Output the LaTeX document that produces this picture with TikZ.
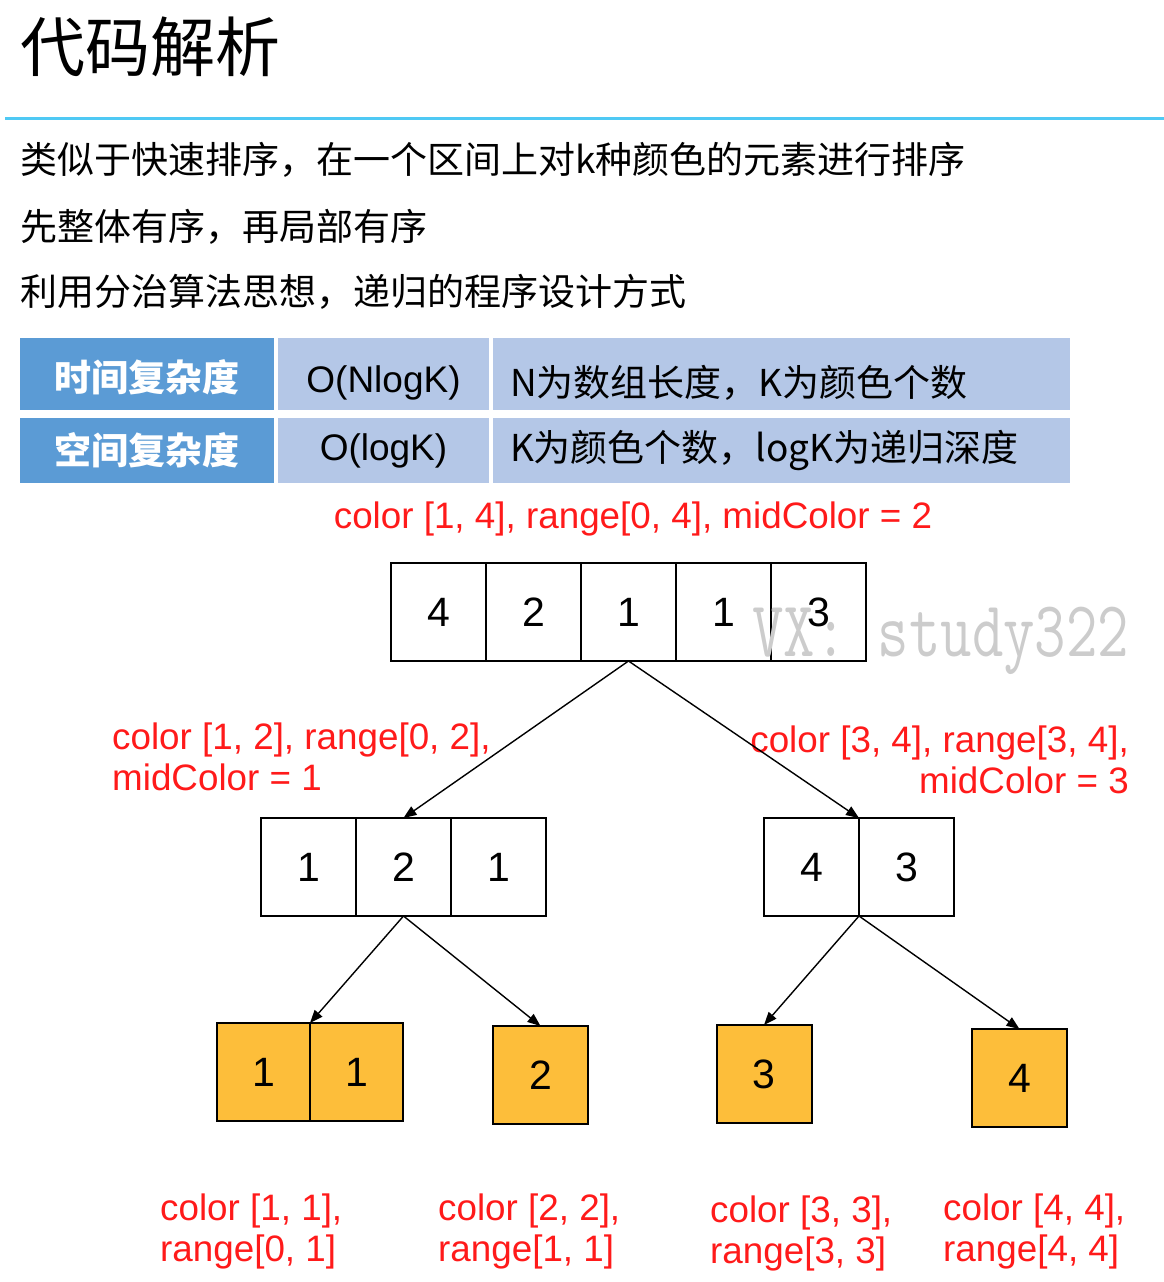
\documentclass[tikz,border=0pt]{standalone}
\usepackage{fontspec}
\setmainfont{Liberation Sans}
\newfontfamily\cjk{Noto Sans CJK SC}
\usepackage{xcolor}
\usepackage{tikz}
\usetikzlibrary{positioning,arrows.meta}
\definecolor{rulecyan}{HTML}{4FC9F4}
\definecolor{headblue}{HTML}{5B9BD5}
\definecolor{cellblue}{HTML}{B4C7E7}
\definecolor{leaforange}{HTML}{FDBE3A}
\definecolor{notered}{HTML}{FF1A1A}

\begin{document}
\begin{tikzpicture}[
  x=1pt, y=-1pt,
  node distance=0pt,
  cell/.style={draw=black, line width=2pt, outer sep=0pt, minimum width=95pt, minimum height=98pt, font=\fontsize{41}{41}\selectfont},
  leaf/.style={cell, fill=leaforange},
  head/.style={fill=headblue, text=white, minimum width=254pt, font=\cjk\bfseries\fontsize{37}{37}\selectfont},
  info/.style={fill=cellblue, font=\fontsize{37}{37}\selectfont},
  note/.style={text=notered, align=left, inner sep=0pt, font=\fontsize{36.8}{41}\selectfont},
  line/.style={line width=1.4pt, -{Triangle[length=13pt,width=10pt]}},
]
\useasboundingbox (0,0) rectangle (1164,1282);

% heading and text
\node[anchor=west, inner sep=0pt, font=\cjk\fontsize{65}{65}\selectfont] (title) at (20,47) {代码解析};
\draw[rulecyan, line width=3pt] (5,118) -- (1164,118);
\node[anchor=west, inner sep=0pt, font=\cjk\fontsize{37}{37}\selectfont] (line1) at (20,160) {类似于快速排序，在一个区间上对k种颜色的元素进行排序};
\node[anchor=west, inner sep=0pt, font=\cjk\fontsize{37}{37}\selectfont] (line2) at (20,227) {先整体有序，再局部有序};
\node[anchor=west, inner sep=0pt, font=\cjk\fontsize{37}{37}\selectfont] (line3) at (20,292) {利用分治算法思想，递归的程序设计方式};

% complexity table
\node[head, minimum height=72pt, text height=34pt, text depth=0pt] (time) at (147,374) {时间复杂度};
\node[info, minimum width=211pt, minimum height=72pt, text height=36pt, text depth=0pt] (timeo) at (383.5,374) {O(NlogK)};
\node[info, minimum width=577pt, minimum height=72pt, text width=543pt, align=left, text height=44pt, text depth=0pt, font=\cjk\fontsize{37}{37}\selectfont] (timen) at (781.5,374) {N为数组长度，K为颜色个数};
\node[head, minimum height=65pt] (space) at (147,450.5) {空间复杂度};
\node[info, minimum width=211pt, minimum height=65pt] (spaceo) at (383.5,450.5) {O(logK)};
\node[info, minimum width=577pt, minimum height=65pt, text width=543pt, align=left, font=\cjk\fontsize{37}{37}\selectfont] (spacen) at (781.5,450.5) {K为颜色个数，logK为递归深度};

% level 0
\node[note] (n0) at (633,519) {color [1, 4], range[0, 4], midColor = 2};
\node[cell] (a1) at (438.5,612) {4};
\node[cell, right=of a1] (a2) {2};
\node[cell, right=of a2] (a3) {1};
\node[cell, right=of a3] (a4) {1};
\node[cell, right=of a4] (a5) {3};
\node[text=black!20, anchor=base west, inner sep=0pt, font=\ttfamily\fontsize{61}{61}\selectfont] (mark) at (752,656) {\scalebox{1}[1.3]{VX: study322}};

% level 1
\node[note, anchor=west] (nl) at (112,757) {color [1, 2], range[0, 2],\\midColor = 1};
\node[note, anchor=east, align=right] (nr) at (1129,760) {color [3, 4], range[3, 4],\\midColor = 3};
\node[cell] (l1) at (308.5,867) {1};
\node[cell, right=of l1] (l2) {2};
\node[cell, right=of l2] (l3) {1};
\node[cell] (r1) at (811.5,867) {4};
\node[cell, right=of r1] (r2) {3};

% level 2
\node[leaf, minimum width=93pt] (b1) at (263.5,1072) {1};
\node[leaf, minimum width=93pt, right=of b1] (b2) {1};
\node[leaf] (c1) at (540.5,1075) {2};
\node[leaf] (d1) at (764,1074) {3};
\node[leaf] (e1) at (1019.5,1078) {4};
\node[note, anchor=west] (nb) at (160,1231) {color [1, 1],\\range[0, 1]};
\node[note, anchor=west] (nc) at (438,1231) {color [2, 2],\\range[1, 1]};
\node[note, anchor=west] (nd) at (710,1233) {color [3, 3],\\range[3, 3]};
\node[note, anchor=west] (ne) at (943,1231) {color [4, 4],\\range[4, 4]};

% arrows
\draw[line] (a3.south) -- (l2.north);
\draw[line] (a3.south) -- (r1.north east);
\draw[line] (l2.south) -- (b1.north east);
\draw[line] (l2.south) -- (c1.north);
\draw[line] (r1.south east) -- (d1.north);
\draw[line] (r1.south east) -- (e1.north);
\end{tikzpicture}
\end{document}
